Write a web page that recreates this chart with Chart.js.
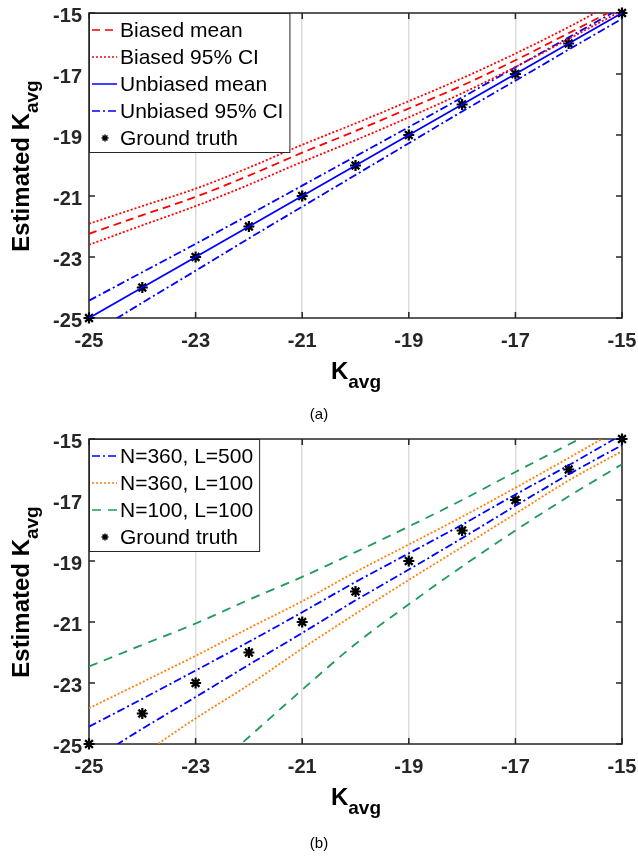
<!DOCTYPE html>
<html>
<head>
<meta charset="utf-8">
<script src="https://cdn.jsdelivr.net/npm/chart.js@4.4.1/dist/chart.umd.min.js"></script>
<style>
  body { margin: 0; background: #fff; width: 638px; height: 856px; position: relative; overflow: hidden;
         font-family: 'Liberation Sans', Arial, Helvetica, sans-serif; }
  canvas { position: absolute; left: 0; }
  .ttl { position: absolute; font-weight: bold; font-size: 24px; line-height: 24px; white-space: nowrap; color: #000; }
  .ttl span { font-size: 19px; position: relative; top: 9px; }
  .ylab { transform: translate(-50%, -50%) rotate(-90deg); }
  .xlab { transform: translateX(-50%); }
  .cap { position: absolute; font-size: 15px; line-height: 15px; transform: translate(-50%, -50%); color: #000; }
</style>
</head>
<body>
<canvas id="chartA" width="638" height="360" style="top:0"></canvas>
<canvas id="chartB" width="638" height="360" style="top:426px"></canvas>

<div class="ttl ylab" style="left:22px;top:166px">Estimated K<span>avg</span></div>
<div class="ttl xlab" style="left:356px;top:359px">K<span>avg</span></div>
<div class="cap" style="left:319px;top:413px">(a)</div>

<div class="ttl ylab" style="left:22px;top:592px">Estimated K<span>avg</span></div>
<div class="ttl xlab" style="left:356px;top:785px">K<span>avg</span></div>
<div class="cap" style="left:319px;top:842px">(b)</div>

<script>
// true K_avg values (x) and axis ticks
const kTrue = [-25, -24, -23, -22, -21, -20, -19, -18, -17, -16, -15];
const tickVals = [-25, -23, -21, -19, -17, -15];

// (a) biased vs unbiased estimator
const biasedMean  = [-22.24, -21.63, -21.03, -20.33, -19.58, -18.87, -18.13, -17.38, -16.55, -15.66, -14.76];
const biasedUpper = [-21.91, -21.33, -20.76, -20.07, -19.32, -18.62, -17.89, -17.14, -16.33, -15.46, -14.52];
const biasedLower = [-22.60, -21.96, -21.33, -20.63, -19.88, -19.17, -18.42, -17.63, -16.77, -15.85, -14.92];
const unbiasedMean  = [-25, -24, -23, -22, -21, -20, -19, -18, -17, -16, -15];
const unbiasedUpper = [-24.43, -23.50, -22.57, -21.62, -20.66, -19.70, -18.74, -17.77, -16.78, -15.80, -14.82];
const unbiasedLower = [-25.57, -24.50, -23.45, -22.39, -21.35, -20.31, -19.27, -18.23, -17.22, -16.20, -15.19];
const truthA = [-25, -24, -23, -22, -21, -20, -19, -18, -17, -16, -15];

// (b) CI for different N, L
const n360l500Up = [-24.43, -23.52, -22.59, -21.65, -20.68, -19.69, -18.75, -17.81, -16.82, -15.86, -14.86];
const n360l500Lo = [-25.60, -24.50, -23.46, -22.40, -21.36, -20.29, -19.28, -18.25, -17.19, -16.16, -15.20];
const n360l100Up = [-23.83, -22.97, -22.11, -21.20, -20.32, -19.36, -18.46, -17.55, -16.60, -15.62, -14.62];
const n360l100Lo = [-26.55, -25.35, -24.16, -23.06, -21.87, -20.73, -19.62, -18.54, -17.45, -16.36, -15.40];
const n100l100Up = [-22.46, -21.75, -21.05, -20.27, -19.52, -18.71, -17.87, -17.00, -16.08, -15.18, -14.30];
const n100l100Lo = [-29.50, -27.90, -26.30, -24.77, -23.22, -21.72, -20.42, -19.18, -18.00, -16.88, -15.83];
const truthB = [-25, -24, -23, -22, -21, -20, -19, -18, -17, -16, -15];

const FONT = "'Liberation Sans', Arial, Helvetica, sans-serif";
const AXIS = '#262626';

const pts = ys => kTrue.map((x, i) => ({ x, y: ys[i] }));

function line(label, ys, color, dash, inLegend = true) {
  return {
    label, data: pts(ys), borderColor: color, backgroundColor: color,
    borderDash: dash, borderWidth: 1.8, pointRadius: 0, fill: false,
    cubicInterpolationMode: 'monotone', inLegend,
  };
}
function truth(ys) {
  return {
    label: 'Ground truth', data: pts(ys), showLine: false,
    pointStyle: 'star', pointRadius: 5.5, pointBorderWidth: 2.2,
    borderColor: '#000', backgroundColor: '#000', clip: false,
  };
}

// box around the plot with inward ticks (MATLAB style)
const axesBox = {
  id: 'axesBox',
  beforeDatasetsDraw(chart) {
    const { ctx, chartArea: a, scales: { x, y } } = chart;
    ctx.save();
    ctx.strokeStyle = AXIS;
    ctx.lineWidth = 1.5;
    ctx.beginPath();
    x.ticks.forEach(t => {
      const px = x.getPixelForValue(t.value);
      ctx.moveTo(px, a.bottom); ctx.lineTo(px, a.bottom - 6);
      ctx.moveTo(px, a.top); ctx.lineTo(px, a.top + 6);
    });
    y.ticks.forEach(t => {
      const py = y.getPixelForValue(t.value);
      ctx.moveTo(a.left, py); ctx.lineTo(a.left + 6, py);
      ctx.moveTo(a.right, py); ctx.lineTo(a.right - 6, py);
    });
    ctx.stroke();
    ctx.strokeRect(a.left, a.top, a.right - a.left, a.bottom - a.top);
    ctx.restore();
  }
};

// legend box in the top-left corner of the plot
const boxLegend = {
  id: 'boxLegend',
  afterDatasetsDraw(chart) {
    const { ctx, chartArea: a } = chart;
    const items = chart.data.datasets.filter(d => d.inLegend !== false);
    const rowH = 27;
    ctx.save();
    ctx.font = '21px ' + FONT;
    const maxW = Math.max(...items.map(d => ctx.measureText(d.label).width));
    const w = 31 + maxW + 6, h = items.length * rowH + 4;
    ctx.fillStyle = '#fff';
    ctx.fillRect(a.left, a.top, w, h);
    ctx.strokeStyle = AXIS;
    ctx.lineWidth = 1;
    ctx.strokeRect(a.left + 0.5, a.top + 0.5, w, h);
    items.forEach((d, i) => {
      const cy = a.top + 17 + i * rowH;
      if (d.showLine === false) {
        ctx.strokeStyle = '#000';
        ctx.lineWidth = 1.5;
        Chart.helpers.drawPoint(ctx, { pointStyle: 'star', radius: 3.5, borderWidth: 1.6 }, a.left + 16, cy);
      } else {
        ctx.save();
        ctx.strokeStyle = d.borderColor;
        ctx.lineWidth = 1.5;
        ctx.setLineDash(d.borderDash || []);
        ctx.beginPath();
        ctx.moveTo(a.left + 3, cy);
        ctx.lineTo(a.left + 28, cy);
        ctx.stroke();
        ctx.restore();
      }
      ctx.fillStyle = '#000';
      ctx.textBaseline = 'alphabetic';
      ctx.fillText(d.label, a.left + 31, cy + 7);
    });
    ctx.restore();
  }
};

function chartOpts() {
  const tickFont = { family: FONT, size: 20, weight: 'bold' };
  return {
    responsive: false,
    animation: false,
    layout: { padding: { left: 0, right: 16, top: 13, bottom: 0 } },
    plugins: { legend: { display: false }, tooltip: { enabled: false } },
    scales: {
      x: {
        type: 'linear', min: -25, max: -15,
        afterBuildTicks: s => { s.ticks = tickVals.map(v => ({ value: v })); },
        afterFit: s => { s.height = 42; s.paddingLeft = 0; s.paddingRight = 0; },
        grid: { color: '#dcdcdc', lineWidth: 1.5, drawTicks: false },
        border: { display: false },
        ticks: { padding: 11, font: tickFont, color: AXIS, maxRotation: 0, autoSkip: false },
      },
      y: {
        type: 'linear', min: -25, max: -15,
        afterBuildTicks: s => { s.ticks = tickVals.map(v => ({ value: v })); },
        afterFit: s => { s.width = 89; s.paddingTop = 0; s.paddingBottom = 0; },
        grid: { display: false, drawTicks: false },
        border: { display: false },
        ticks: { padding: 7, labelOffset: 3, font: tickFont, color: AXIS },
      }
    }
  };
}

new Chart(document.getElementById('chartA'), {
  type: 'line',
  data: {
    datasets: [
      line('Biased mean', biasedMean, '#ff0000', [8, 5]),
      line('Biased 95% CI', biasedUpper, '#ff0000', [2, 2]),
      line('Biased 95% CI', biasedLower, '#ff0000', [2, 2], false),
      line('Unbiased mean', unbiasedMean, '#0000ff', []),
      line('Unbiased 95% CI', unbiasedUpper, '#0000ff', [8, 3, 2, 3]),
      line('Unbiased 95% CI', unbiasedLower, '#0000ff', [8, 3, 2, 3], false),
      truth(truthA),
    ]
  },
  options: chartOpts(),
  plugins: [axesBox, boxLegend]
});

new Chart(document.getElementById('chartB'), {
  type: 'line',
  data: {
    datasets: [
      line('N=360, L=500', n360l500Up, '#0000ff', [8, 3, 2, 3]),
      line('N=360, L=500', n360l500Lo, '#0000ff', [8, 3, 2, 3], false),
      line('N=360, L=100', n360l100Up, '#ff7f0e', [2, 2]),
      line('N=360, L=100', n360l100Lo, '#ff7f0e', [2, 2], false),
      line('N=100, L=100', n100l100Up, '#1f9a5a', [9, 7]),
      line('N=100, L=100', n100l100Lo, '#1f9a5a', [9, 7], false),
      truth(truthB),
    ]
  },
  options: chartOpts(),
  plugins: [axesBox, boxLegend]
});
</script>
</body>
</html>
